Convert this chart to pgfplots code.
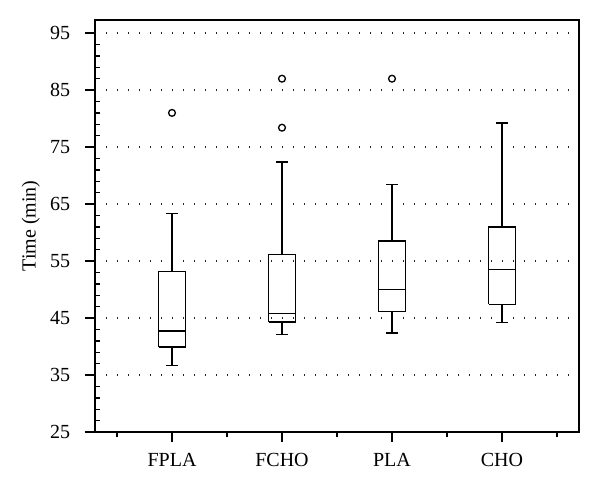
\documentclass[border=0pt]{standalone}
\usepackage{pgfplots}
\pgfplotsset{compat=1.18}
\usepackage{fontspec}
\setmainfont{Liberation Serif}
\begin{document}
\fontsize{20}{23}\selectfont
\begin{tikzpicture}
\pgfplotsset{bx/.style={black, solid, line width=1.4pt, mark=none, unbounded coords=jump},
  ol/.style={black, only marks, mark=o, mark size=3.4pt, mark options={solid, line width=1.3pt}}}
\begin{axis}[
  at={(0pt,0pt)}, anchor=south west,
  scale only axis, width=484pt, height=412pt,
  xmin=0.3, xmax=4.7, ymin=25, ymax=97.3,
  xtick={1,2,3,4}, xticklabels={FPLA,FCHO,PLA,CHO},
  minor xtick={0.5,1.5,2.5,3.5,4.5},
  ytick={25,35,45,55,65,75,85,95},
  extra y ticks={27,29,31,33,37,39,41,43,47,49,51,53,57,59,61,63,67,69,71,73,77,79,81,83,87,89,91,93},
  extra y tick style={tick align=inside, major tick length=5pt, yticklabels={}, grid=none},
  tick align=outside,
  major tick length=10pt, minor tick length=5pt,
  xtick pos=left, ytick pos=left,
  ymajorgrids,
  major grid style={black!85, line width=1.4pt, dash pattern=on 1.4pt off 9.6pt},
  axis line style={line width=1.4pt},
  tick style={line width=1.4pt, black},
  /pgf/number format/assume math mode=true,
  tick label style={font=\fontsize{20}{23}\selectfont},
  yticklabel style={xshift=-8pt},
  xticklabel style={yshift=-4pt},
  ylabel={Time (min)},
  label style={font=\fontsize{20}{23}\selectfont},
  ylabel style={at={(axis description cs:-0.1225,0.5)}, anchor=base},
]
% FPLA: lower whisker 36.7, Q1 39.9, median 42.7, Q3 53.2, upper whisker 63.3
\addplot[bx] table {
x y
0.8775 39.9
1.1225 39.9
1.1225 53.2
0.8775 53.2
0.8775 39.9
nan nan
0.8775 42.7
1.1225 42.7
nan nan
1 53.2
1 63.3
nan nan
0.947 63.3
1.053 63.3
nan nan
1 39.9
1 36.7
nan nan
0.947 36.7
1.053 36.7
};
% FCHO: 42.1, 44.3, 45.8, 56.1, 72.4
\addplot[bx] table {
x y
1.8775 44.3
2.1225 44.3
2.1225 56.1
1.8775 56.1
1.8775 44.3
nan nan
1.8775 45.8
2.1225 45.8
nan nan
2 56.1
2 72.4
nan nan
1.947 72.4
2.053 72.4
nan nan
2 44.3
2 42.1
nan nan
1.947 42.1
2.053 42.1
};
% PLA: 42.4, 46.1, 50.0, 58.5, 68.4
\addplot[bx] table {
x y
2.8775 46.1
3.1225 46.1
3.1225 58.5
2.8775 58.5
2.8775 46.1
nan nan
2.8775 50.0
3.1225 50.0
nan nan
3 58.5
3 68.4
nan nan
2.947 68.4
3.053 68.4
nan nan
3 46.1
3 42.4
nan nan
2.947 42.4
3.053 42.4
};
% CHO: 44.2, 47.4, 53.5, 61.0, 79.2
\addplot[bx] table {
x y
3.8775 47.4
4.1225 47.4
4.1225 61.0
3.8775 61.0
3.8775 47.4
nan nan
3.8775 53.5
4.1225 53.5
nan nan
4 61.0
4 79.2
nan nan
3.947 79.2
4.053 79.2
nan nan
4 47.4
4 44.2
nan nan
3.947 44.2
4.053 44.2
};
% outliers
\addplot[ol] coordinates {(1,81.0) (2,87.0) (2,78.4) (3,87.0)};
\end{axis}
\pgfresetboundingbox
\path[use as bounding box] (-95pt,-61pt) rectangle (505pt,432pt);
\end{tikzpicture}
\end{document}
